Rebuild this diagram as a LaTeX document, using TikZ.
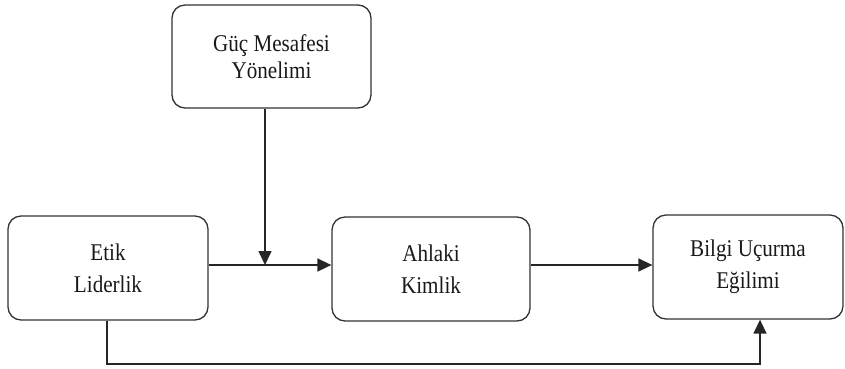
\documentclass[tikz,border=0pt]{standalone}
\usepackage{fontspec}
\setmainfont[FakeStretch=0.88]{Liberation Serif}
\usetikzlibrary{arrows.meta,positioning,calc}

\begin{document}
\begin{tikzpicture}[
            x=1pt, y=-1pt,
            box/.style={draw=black!80, line width=1.3pt, rectangle, rounded corners=13pt, minimum height=104pt, inner sep=0pt, align=center, text=black!90, font=\fontsize{24}{32}\selectfont},
            link/.style={draw=black!85, line width=1.5pt, -{Triangle[length=14pt,width=13pt]}}
        ]
            \useasboundingbox (0,0) rectangle (845,368);
            \node[box, minimum width=199pt, minimum height=103pt, font=\fontsize{24}{27.5}\selectfont] (guc) at (271.5,56.5) {Güç Mesafesi\\Yönelimi};
            \node[box, minimum width=200pt] (etik) at (108,268) {Etik\\Liderlik};
            \node[box, minimum width=198pt] (ahlaki) at (431,269) {Ahlaki\\Kimlik};
            \node[box, minimum width=190pt] (bilgi) at (748,267) {Bilgi Uçurma\\Eğilimi};

            \coordinate (mod) at (265,265);
            \coordinate (dl) at (107,364);
            \coordinate (dr) at (760,364);

            \draw[link] (guc.south -| mod) -- (mod);
            \draw[link] (etik.east |- mod) -- (ahlaki.west |- mod);
            \draw[link] (ahlaki.east |- mod) -- (bilgi.west |- mod);
            \draw[link] (etik.south -| dl) -- (dl) -- (dr) -- (bilgi.south -| dr);
        \end{tikzpicture}
\end{document}
